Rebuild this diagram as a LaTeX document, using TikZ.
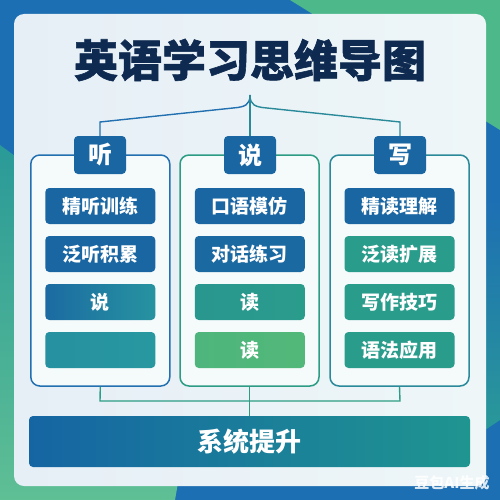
\documentclass[tikz,border=0pt]{standalone}
\usepackage{fontspec}
\setmainfont{Noto Sans CJK SC}
\newfontfamily\titlefont{Noto Sans CJK SC}[BoldFeatures={FakeBold=1.3}]
\usetikzlibrary{positioning}
\definecolor{bgblue}{HTML}{1D6FB3}
\definecolor{bggreen}{HTML}{4DB889}
\definecolor{bgteal}{HTML}{2A9A98}
\definecolor{cardbg}{HTML}{EEF6F8}
\definecolor{cardbgl}{HTML}{E6EFF6}
\definecolor{titlec}{HTML}{0E2A50}
\definecolor{dblue}{HTML}{1A66A2}
\definecolor{teal}{HTML}{2A9C8C}
\definecolor{tealb}{HTML}{2898A0}
\definecolor{lgreen}{HTML}{52B87A}
\definecolor{lineblue}{HTML}{2270B0}
\definecolor{linegreen}{HTML}{2C9D84}
\definecolor{lineteal}{HTML}{2A8A9A}
\definecolor{botl}{HTML}{1565A3}
\definecolor{botr}{HTML}{1F9590}
\begin{document}
\begin{tikzpicture}[x=1pt,y=-1pt,
  itembox/.style={rounded corners=4pt, minimum width=110pt, minimum height=36pt, inner sep=0pt, text=white, font=\fontsize{19}{19}\selectfont\bfseries},
  headbox/.style={rounded corners=4pt, fill=dblue, minimum width=52pt, minimum height=38pt, inner sep=0pt, text=white, font=\fontsize{24}{24}\selectfont\bfseries},
  colframe/.style={rounded corners=9pt, line width=1.5pt, fill=cardbg!60!white, minimum width=139pt, minimum height=231pt, inner sep=0pt},
  conn/.style={line width=1.4pt}
]
\useasboundingbox (0,0) rectangle (500,500);
% background
\fill[bgblue] (0,0) rectangle (500,500);
\fill[bggreen] (290,0) -- (500,0) -- (500,130) -- cycle;
\shade[top color=bgteal, bottom color=bggreen!90!white] (0,145) -- (210,300) -- (175,500) -- (0,500) -- cycle;
\shade[top color=bgblue, bottom color=bgteal] (500,200) -- (500,420) -- (470,440) -- (470,200) -- cycle;
% card
\shade[rounded corners=10pt, left color=cardbgl, right color=cardbg] (14,14) rectangle (486,486);
% title
\node[font=\titlefont\fontsize{44}{44}\selectfont\bfseries, text=titlec] (title) at (250,60) {英语学习思维导图};
% column frames
\node[colframe, draw=lineblue] (col1) at (100.3,270.5) {};
\node[colframe, draw=linegreen] (col2) at (249.5,270.5) {};
\node[colframe, draw=lineteal] (col3) at (399.5,270.5) {};
% headers
\node[headbox] (h1) at (100,155) {听};
\node[headbox] (h2) at (250,155) {说};
\node[headbox] (h3) at (400,155) {写};
% brace
\coordinate (top) at (250,95);
\draw[conn, draw=lineblue] (top) .. controls (250,105) and (245,107) .. (233,108) -- (100,122) -- (h1.north);
\draw[conn, draw=lineteal] (top) .. controls (250,105) and (255,107) .. (267,108) -- (400,122) -- (h3.north);
\draw[conn, draw=lineteal] (top) -- (h2.north);
% items left
\node[itembox, fill=dblue] (l1) at (100.3,206) {精听训练};
\node[itembox, fill=dblue] (l2) at (100.3,254) {泛听积累};
\node[itembox, left color=dblue!90!tealb, right color=tealb!90!dblue] (l3) at (100.3,302) {说};
\node[itembox, left color=tealb!85!dblue, right color=tealb] (l4) at (100.3,350) {};
% items middle
\node[itembox, fill=dblue] (m1) at (249.8,206) {口语模仿};
\node[itembox, fill=dblue!95!teal] (m2) at (249.8,254) {对话练习};
\node[itembox, left color=teal!90!dblue, right color=teal] (m3) at (249.8,302) {读};
\node[itembox, left color=lgreen!90!teal, right color=lgreen] (m4) at (249.8,350) {读};
% items right
\node[itembox, fill=dblue] (r1) at (399.5,206) {精读理解};
\node[itembox, fill=teal] (r2) at (399.5,254) {泛读扩展};
\node[itembox, fill=teal] (r3) at (399.5,302) {写作技巧};
\node[itembox, fill=teal] (r4) at (399.5,350) {语法应用};
% bottom box
\node[rounded corners=4pt, left color=botl, right color=botr, minimum width=441pt, minimum height=51pt, inner sep=0pt, text=white, font=\fontsize{26}{26}\selectfont\bfseries] (bot) at (249.5,441.5) {系统提升};
% bottom connectors
\draw[conn, draw=linegreen] (col1.south) -- (100,401) -- (400,401) -- (col3.south);
\draw[conn, draw=linegreen] (col2.south) -- (bot.north);
% watermark
\node[text=white, opacity=0.85, font=\fontsize{15}{15}\selectfont\bfseries] (wm) at (452,483) {豆包AI生成};
\end{tikzpicture}
\end{document}
